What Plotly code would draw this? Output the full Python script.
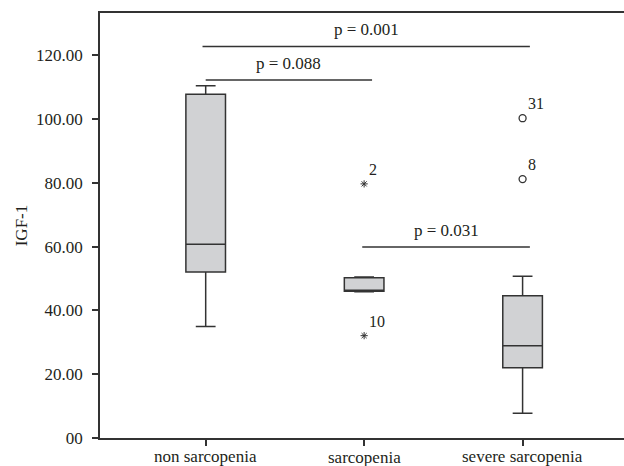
import plotly.graph_objects as go

# ---- data ----
categories = ["non sarcopenia", "sarcopenia", "severe sarcopenia"]
q1_vals = [52.1, 46.0, 22.0]
median_vals = [60.8, 46.0, 28.9]
q3_vals = [107.8, 50.3, 44.6]
lower_vals = [35.0, 45.9, 7.8]
upper_vals = [110.5, 50.5, 50.7]

extreme_x = ["sarcopenia", "sarcopenia"]
extreme_y = [79.7, 32.1]
extreme_labels = ["2", "10"]

outlier_x = ["severe sarcopenia", "severe sarcopenia"]
outlier_y = [100.3, 81.2]
outlier_labels = ["31", "8"]

y_tickvals = [0, 20, 40, 60, 80, 100, 120]
y_ticktext = ["00", "20.00", "40.00", "60.00", "80.00", "100.00", "120.00"]

p_labels = ["p = 0.001", "p = 0.088", "p = 0.031"]
p_levels = [122.8, 112.3, 59.9]

FONT = "Liberation Serif"
TXT = "#231f20"
LINE = "#333333"

fig = go.Figure()
fig.add_trace(go.Box(
    x=categories, q1=q1_vals, median=median_vals, q3=q3_vals,
    lowerfence=lower_vals, upperfence=upper_vals,
    fillcolor="#d1d2d4", line=dict(color=LINE, width=1.5),
    width=0.25, whiskerwidth=0.5, boxpoints=False, showlegend=False,
    hoverinfo="skip",
))
fig.add_trace(go.Scatter(
    x=extreme_x, y=extreme_y, mode="markers+text", text=extreme_labels,
    textposition="top right", textfont=dict(family=FONT, size=16, color=TXT),
    marker=dict(symbol="asterisk", size=6, line=dict(color=LINE, width=1)),
    showlegend=False, cliponaxis=False,
))
fig.add_trace(go.Scatter(
    x=outlier_x, y=outlier_y, mode="markers+text", text=outlier_labels,
    textposition="top right", textfont=dict(family=FONT, size=16, color=TXT),
    marker=dict(symbol="circle-open", size=7, color=LINE, line=dict(width=1.3)),
    showlegend=False, cliponaxis=False,
))

# significance brackets (positions in category-index units)
spans = [(-0.02, 2.046), (0.0, 1.05), (0.988, 2.046)]
for (x0, x1), lvl, lab in zip(spans, p_levels, p_labels):
    fig.add_shape(type="line", xref="x", yref="y", x0=x0, x1=x1, y0=lvl, y1=lvl,
                  line=dict(color=LINE, width=1.5))
    fig.add_annotation(x=(x0 + x1) / 2, y=lvl, xref="x", yref="y", text=lab,
                       showarrow=False, yanchor="bottom", yshift=5,
                       font=dict(family=FONT, size=17, color=TXT))

# category labels (staggered slightly like the original)
label_shift = [0, -1, 0]
for i, (cat, s) in enumerate(zip(categories, label_shift)):
    fig.add_annotation(x=i, y=0, xref="x", yref="paper", text=cat, showarrow=False,
                       yanchor="top", yshift=-7 + s,
                       font=dict(family=FONT, size=17, color=TXT))

fig.update_layout(
    width=624, height=466,
    margin=dict(l=100, r=0, t=13, b=28),
    paper_bgcolor="white", plot_bgcolor="white",
    font=dict(family=FONT, size=17, color=TXT),
    xaxis=dict(
        type="category", range=[-0.667, 2.64], showgrid=False, zeroline=False,
        showline=True, linecolor=LINE, linewidth=1.5, mirror=True,
        ticks="outside", ticklen=6, tickcolor=LINE, tickwidth=1.5,
        showticklabels=False, automargin=False,
    ),
    yaxis=dict(
        range=[0, 133.3], showgrid=False, zeroline=False,
        showline=True, linecolor=LINE, linewidth=1.5,
        ticks="outside", ticklen=6, tickcolor=LINE, tickwidth=1.5,
        tickvals=y_tickvals, ticktext=y_ticktext, ticklabelstandoff=6,
        tickfont=dict(family=FONT, size=17, color=TXT),
        title=dict(text="IGF-1", font=dict(family=FONT, size=17, color=TXT), standoff=4),
        automargin=False,
    ),
)

fig.write_html("out.html", config={"displayModeBar": False},
               post_script="document.body.style.margin='0';")
